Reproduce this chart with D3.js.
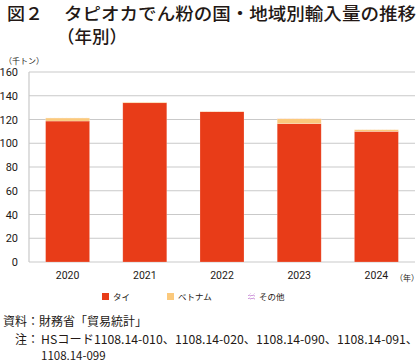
<!DOCTYPE html>
<html>
<head>
<meta charset="utf-8">
<script src="https://cdn.jsdelivr.net/npm/d3@7"></script>
<style>
  body { margin: 0; background: #fff; }
  svg { display: block; font-family: "Noto Sans CJK JP", "Noto Sans", sans-serif; }
</style>
</head>
<body>
<div id="chart"></div>
<script>
// data (thousand tons)
var years = ["2020", "2021", "2022", "2023", "2024"];
var thai = [118.7, 134.1, 126.6, 116.5, 110.0];
var vietnam = [2.6, 0.6, 0.3, 4.2, 1.5];
var other = [0.1, 0.1, 0.1, 0.1, 0.1];
var seriesNames = ["タイ", "ベトナム", "その他"];
var yTicks = [0, 20, 40, 60, 80, 100, 120, 140, 160];

var colors = ["#e83c18", "#fbc97c", "url(#wave)"];

const W = 420, H = 363;
const margin = { top: 72, right: 5, bottom: 101, left: 29 };
const width = W - margin.left - margin.right;
const height = H - margin.top - margin.bottom;

var rows = years.map((y, i) => ({ year: y, "タイ": thai[i], "ベトナム": vietnam[i], "その他": other[i] }));
var stacked = d3.stack().keys(seriesNames)(rows);

const svg = d3.select("#chart").append("svg")
  .attr("width", W)
  .attr("height", H);

// pattern for "その他"
var defs = svg.append("defs");
var pat = defs.append("pattern")
  .attr("id", "wave")
  .attr("patternUnits", "userSpaceOnUse")
  .attr("width", 4)
  .attr("height", 3);
pat.append("rect").attr("width", 4).attr("height", 3).attr("fill", "#fff");
pat.append("path")
  .attr("d", "M0,2 Q1,0 2,1.5 T4,1")
  .attr("fill", "none")
  .attr("stroke", "#c27bd0")
  .attr("stroke-width", 0.8);

// title
svg.append("text")
  .attr("x", 7)
  .attr("y", 20)
  .attr("font-size", "17.5px")
  .attr("font-weight", 500)
  .attr("fill", "#231815")
  .attr("textLength", 36)
  .attr("lengthAdjust", "spacingAndGlyphs")
  .text("図２");

svg.append("text")
  .attr("x", 64)
  .attr("y", 20)
  .attr("font-size", "17.5px")
  .attr("font-weight", 500)
  .attr("fill", "#231815")
  .attr("textLength", 352)
  .attr("lengthAdjust", "spacingAndGlyphs")
  .text("タピオカでん粉の国・地域別輸入量の推移");

svg.append("text")
  .attr("x", 57)
  .attr("y", 43)
  .attr("font-size", "17.5px")
  .attr("font-weight", 500)
  .attr("fill", "#231815")
  .text("（年別）");

const g = svg.append("g")
  .attr("transform", `translate(${margin.left},${margin.top})`);

const x = d3.scaleBand().domain(years).range([0, width]).paddingInner(0.43).paddingOuter(0.215);
const y = d3.scaleLinear().domain([0, 160]).range([height, 0]);

// grid
g.append("g")
  .selectAll("line")
  .data(yTicks)
  .enter()
  .append("line")
  .attr("x1", 0)
  .attr("x2", width)
  .attr("y1", d => y(d))
  .attr("y2", d => y(d))
  .style("stroke", "#c9c9c9")
  .style("stroke-width", 1.2);

g.append("line")
  .attr("x1", 0).attr("x2", 0)
  .attr("y1", 0).attr("y2", height)
  .style("stroke", "#c9c9c9")
  .style("stroke-width", 1.2);

// bars
g.append("g")
  .selectAll("g")
  .data(stacked)
  .enter()
  .append("g")
  .attr("fill", (d, i) => colors[i])
  .selectAll("rect")
  .data(d => d)
  .enter()
  .append("rect")
  .attr("x", d => x(d.data.year))
  .attr("width", x.bandwidth())
  .attr("y", d => y(d[1]))
  .attr("height", d => y(d[0]) - y(d[1]))
  .style("stroke", "#fff")
  .style("stroke-opacity", 0.35)
  .style("stroke-width", 0.6);

// y axis
const yAxis = d3.axisLeft(y).tickValues(yTicks).tickSize(0).tickPadding(11);
g.append("g")
  .attr("id", "yAxis")
  .call(yAxis)
  .call(s => s.select(".domain").remove())
  .selectAll("text")
  .attr("font-size", "11px")
  .attr("fill", "#231815")
  .attr("font-family", "Roboto, 'Noto Sans', sans-serif");

// x axis
const xAxis = d3.axisBottom(x).tickSize(0).tickPadding(10);
g.append("g")
  .attr("id", "xAxis")
  .attr("transform", `translate(0,${height})`)
  .call(xAxis)
  .call(s => s.select(".domain").remove())
  .selectAll("text")
  .attr("font-size", "10.5px")
  .attr("fill", "#231815")
  .attr("font-family", "Roboto, 'Noto Sans', sans-serif");

svg.append("text")
  .attr("x", 395)
  .attr("y", 281)
  .attr("font-size", "8px")
  .attr("fill", "#231815")
  .text("（年）");

svg.append("text")
  .attr("x", 4)
  .attr("y", 64)
  .attr("font-size", "8px")
  .attr("fill", "#231815")
  .text("（千トン）");

// legend
var legendX = [102, 167, 248];
var legend = svg.append("g").attr("id", "legend");
seriesNames.forEach((name, i) => {
  legend.append("rect")
    .attr("x", legendX[i])
    .attr("y", 293)
    .attr("width", 7)
    .attr("height", 7)
    .attr("fill", colors[i]);
  legend.append("text")
    .attr("x", legendX[i] + 11)
    .attr("y", 300)
    .attr("font-size", "8.5px")
    .attr("fill", "#231815")
    .text(name);
});

// source and note
svg.append("text")
  .attr("x", 3)
  .attr("y", 326)
  .attr("font-size", "12px")
  .attr("fill", "#231815")
  .text("資料：財務省「貿易統計」");

svg.append("text")
  .attr("x", 15)
  .attr("y", 344)
  .attr("font-size", "12px")
  .attr("fill", "#231815")
  .text("注：");

svg.append("text")
  .attr("x", 41)
  .attr("y", 344)
  .attr("font-size", "12px")
  .attr("fill", "#231815")
  .attr("textLength", 377)
  .attr("lengthAdjust", "spacingAndGlyphs")
  .text("HSコード1108.14-010、1108.14-020、1108.14-090、1108.14-091、");

svg.append("text")
  .attr("x", 41)
  .attr("y", 360)
  .attr("font-size", "11.5px")
  .attr("fill", "#231815")
  .text("1108.14-099");
</script>
</body>
</html>
